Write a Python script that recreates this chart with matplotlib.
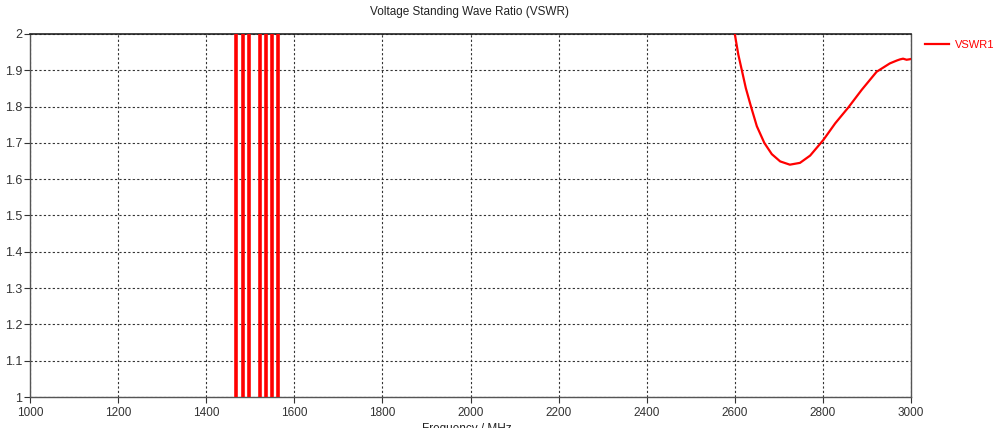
import matplotlib
matplotlib.use("Agg")
import matplotlib.pyplot as plt

# smooth VSWR curve (visible part, 2600-3000 MHz)
freq_mhz = [2600, 2608, 2616, 2625, 2637, 2650, 2667, 2684, 2703, 2725,
            2748, 2771, 2801, 2828, 2858, 2888, 2922, 2952, 2968, 2975,
            2982, 2990, 3000]
vswr = [2.000, 1.943, 1.900, 1.851, 1.799, 1.746, 1.700, 1.669, 1.649, 1.640,
        1.645, 1.665, 1.708, 1.754, 1.798, 1.846, 1.896, 1.919, 1.927, 1.930,
        1.932, 1.929, 1.931]

# narrow resonance spikes that cross the whole visible range
spike_freqs = [1467, 1483, 1497, 1521, 1535, 1549, 1564]

x_ticks = [1000, 1200, 1400, 1600, 1800, 2000, 2200, 2400, 2600, 2800, 3000]
y_ticks = [1, 1.1, 1.2, 1.3, 1.4, 1.5, 1.6, 1.7, 1.8, 1.9, 2]
y_labels = ["1", "1.1", "1.2", "1.3", "1.4", "1.5", "1.6", "1.7", "1.8", "1.9", "2"]

plt.rcParams['font.family'] = ['Liberation Sans', 'DejaVu Sans']
fig = plt.figure(figsize=(10, 4.28), dpi=100)
ax = fig.add_axes([0.030, 0.0724, 0.881, 0.8482])

red = "#ff0000"
ax.plot(freq_mhz, vswr, color=red, lw=1.6, label="VSWR1", zorder=3)
ax.vlines(spike_freqs, 1, 2, color=red, lw=2.6, zorder=3)

ax.set_xlim(1000, 3000)
ax.set_ylim(1, 2)
ax.set_xticks(x_ticks)
ax.set_xticklabels([str(t) for t in x_ticks])
ax.set_yticks(y_ticks)
ax.set_yticklabels(y_labels)
ax.tick_params(labelsize=8.5, colors="#333333", length=4, width=0.8, pad=3)
ax.tick_params(axis="y", labelsize=9, pad=1.5)
ax.grid(True, color="#333333", linestyle=(0, (2, 2)), linewidth=0.8)

for s in ["left", "bottom", "right"]:
    ax.spines[s].set_color("#555555")
    ax.spines[s].set_linewidth(1.0)
ax.spines["top"].set_color("#222222")
ax.spines["top"].set_linewidth(1.2)

fig.text(0.470, 0.972, "Voltage Standing Wave Ratio (VSWR)", ha="center",
         va="center", fontsize=8.5, color="#222222")
fig.text(0.467, 0.012, "Frequency / MHz", ha="center", va="top",
         fontsize=8.5, color="#222222")

leg = fig.legend(loc="upper left", bbox_to_anchor=(0.921, 0.918), frameon=False,
                 fontsize=8, handlelength=2.1, handletextpad=0.6, borderaxespad=0)
for t in leg.get_texts():
    t.set_color(red)

fig.savefig("out.png", dpi=100)
